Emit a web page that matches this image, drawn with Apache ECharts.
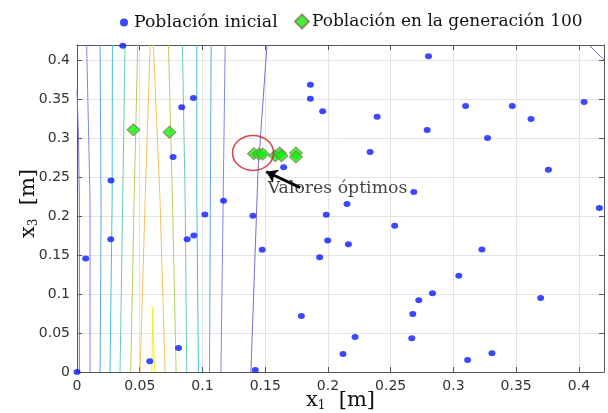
<!DOCTYPE html>
<html>
<head>
<meta charset="utf-8">
<script src="https://cdn.jsdelivr.net/npm/echarts@6/dist/echarts.min.js"></script>
<style>html,body{margin:0;padding:0;background:#fff}#c{width:608px;height:413px}</style>
</head>
<body>
<div id="c"></div>
<script>
// ---- data ----
const xTicks = [0, 0.05, 0.1, 0.15, 0.2, 0.25, 0.3, 0.35, 0.4];
const yTicks = [0, 0.05, 0.1, 0.15, 0.2, 0.25, 0.3, 0.35, 0.4];

// contour lines [x1, x3]
const contourA = [[0.0019,0],[0.0019,0.22],[0.0012,0.30],[0,0.362]];
const contourB = [[0.0104,0],[0.0104,0.22],[0.0077,0.42]];
const contourC = [[0.0184,0],[0.0192,0.21],[0.0184,0.42]];
const contourD = [[0.0263,0],[0.0280,0.22],[0.0282,0.42]];
const contourE = [[0.0343,0],[0.0364,0.22],[0.0383,0.42]];
const contourF = [[0.0428,0],[0.0455,0.22],[0.0484,0.42]];
const contourG = [[0.0503,0],[0.0543,0.22],[0.0583,0.42]];
const contourH = [[0.0702,0],[0.0662,0.22],[0.0609,0.42]];
const contourI = [[0.0596,0],[0.0604,0.083],[0.0617,0]];
const contourJ = [[0.0790,0],[0.0761,0.22],[0.0729,0.42]];
const contourK = [[0.0875,0],[0.0862,0.22],[0.0840,0.42]];
const contourL = [[0.0968,0],[0.0955,0.22],[0.0955,0.42]];
const contourM = [[0.1056,0],[0.1069,0.42]];
const contourN = [[0.1147,0],[0.1181,0.42]];
const contourO = [[0.1386,0],[0.1442,0.2556],[0.1514,0.42]];
const contourP = [[0.408,0.42],[0.42,0.401]];

const poblacionInicial = [
  [0.0365,0.419],[0.0835,0.340],[0.0928,0.352],[0.0766,0.276],[0.0271,0.246],
  [0.1168,0.220],[0.1647,0.263],[0.186,0.369],[0.186,0.351],[0.1958,0.335],
  [0.2801,0.4055],[0.2392,0.328],[0.2336,0.2826],[0.2791,0.3108],[0.3097,0.3417],
  [0.3272,0.3006],[0.3469,0.3417],[0.3618,0.325],[0.4041,0.3469],[0.3757,0.2598],
  [0.2684,0.2311],[0.2152,0.2157],[0.4163,0.2105],[0.0069,0.1458],[0.0269,0.1706],
  [0.058,0.0137],[0.0809,0.0309],[0.0878,0.1706],[0.0931,0.1754],[0.1019,0.2024],
  [0.1402,0.2006],[0.1476,0.1569],[0.1421,0.0026],[0.1788,0.072],[0,0],
  [0.1987,0.2019],[0.2532,0.1878],[0.1998,0.1689],[0.2163,0.1642],[0.1934,0.1475],
  [0.3227,0.1573],[0.3043,0.1235],[0.2833,0.1012],[0.2724,0.0922],[0.2676,0.0746],
  [0.3695,0.0952],[0.2216,0.045],[0.2668,0.0433],[0.212,0.0232],[0.3113,0.0154],
  [0.3307,0.024]
];
const poblacionGen100 = [
  [0.0450,0.311],[0.0737,0.308],[0.1410,0.2804],[0.1450,0.2800],[0.1480,0.2800],
  [0.1580,0.2776],[0.1615,0.2813],[0.1630,0.2776],[0.1745,0.2813],[0.1745,0.2761]
];
const optimoCentro = [[0.1403,0.2813]];
const flecha = [[0.178,0.2367],[0.1508,0.2572]];
const textoPunto = [[0.1516,0.2354]];
const labelSerie1 = 'Población inicial';
const labelSerie2 = 'Población en la generación 100';
const labelAnot = 'Valores óptimos';

// ---- styles ----
const contourSet = [
  [contourA,'#7a6dd4'],[contourB,'#7e86ee'],[contourC,'#5ea6f2'],[contourD,'#3ec3e0'],
  [contourE,'#64d1ae'],[contourF,'#b3cf5c'],[contourG,'#f9bf5a'],[contourH,'#f9bf5a'],
  [contourI,'#f2ee2a'],[contourJ,'#b3cf5c'],[contourK,'#64d1ae'],[contourL,'#3ec3e0'],
  [contourM,'#5ea6f2'],[contourN,'#7e86ee'],[contourO,'#7a6dd4'],[contourP,'#6a6ad8']
];

const chart = echarts.init(document.getElementById('c'), null, {renderer:'canvas'});
const tickFont = {fontFamily:'DejaVu Sans', fontSize:14, color:'#333'};
const serif = 'DejaVu Serif';

const series = contourSet.map(([d,c]) => ({
  type:'line', data:d, symbol:'none', showSymbol:false, silent:true, z:1,
  lineStyle:{color:c, width:1}, animation:false
}));
series.push({
  name: labelSerie1, type:'scatter', data: poblacionInicial, symbol:'circle', symbolSize:[7,6],
  itemStyle:{color:'#0a1aff'}, z:3, animation:false
});
series.push({
  name: labelSerie2, type:'scatter', data: poblacionGen100, symbol:'diamond', symbolSize:[13,12],
  itemStyle:{color:'#0cf00c', borderColor:'#8f7658', borderWidth:1}, z:4, animation:false
});
series.push({
  type:'scatter', data: optimoCentro, symbol:'circle', symbolSize:[41,35], silent:true,
  itemStyle:{color:'rgba(0,0,0,0)', borderColor:'#c81e1e', borderWidth:1.5}, z:5, animation:false
});
series.push({
  type:'lines', coordinateSystem:'cartesian2d', data:[{coords: flecha}],
  symbol:['none','arrow'], symbolSize:11, silent:true,
  lineStyle:{color:'#000', width:3, opacity:1, curveness:0}, z:6, animation:false
});
series.push({
  type:'scatter', data: textoPunto, symbolSize:1, silent:true, itemStyle:{color:'rgba(0,0,0,0)'},
  label:{show:true, position:'right', distance:0, formatter:labelAnot,
    fontFamily:serif, fontSize:17.3, color:'#111'}, z:6, animation:false
});

const axisCommon = {
  type:'value', min:0, max:0.42, interval:0.05,
  axisLine:{show:true, onZero:false, lineStyle:{color:'#555', width:1}},
  axisTick:{show:true, inside:true, length:5, lineStyle:{color:'#555'}},
};

chart.setOption({
  animation:false,
  backgroundColor:'#fff',
  grid:{left:77, right:4, top:45, bottom:41, containLabel:false, outerBoundsMode:'none'},
  legend:[
    {data:[{name:labelSerie1, icon:'circle'}], left:115, top:9, itemWidth:8, itemHeight:8, itemGap:0,
     textStyle:{fontFamily:serif, fontSize:17.3, color:'#111', padding:[0,0,0,1]}},
    {data:[{name:labelSerie2, icon:'diamond'}], left:289, top:8, itemWidth:14, itemHeight:14, itemGap:0,
     textStyle:{fontFamily:serif, fontSize:17, color:'#111', padding:[0,0,0,-2]}}
  ],
  xAxis:[
    Object.assign({}, axisCommon, {
      position:'bottom',
      name:'x{s|1}  [m]', nameLocation:'middle', nameGap:18, nameMoveOverlap:false,
      nameTextStyle:{fontFamily:serif, fontSize:21, color:'#111',
        rich:{s:{fontFamily:serif, fontSize:12, verticalAlign:'bottom', padding:[10,0,0,0]}}},
      axisLabel:Object.assign({margin:7, showMaxLabel:false, formatter:v=>String(+v.toFixed(2))}, tickFont),
      splitLine:{show:true, lineStyle:{color:'#e4e4e4', width:1}}
    }),
    Object.assign({}, axisCommon, {position:'top', axisLabel:{show:false}, splitLine:{show:false}})
  ],
  yAxis:[
    Object.assign({}, axisCommon, {
      position:'left',
      name:'x{s|3}  [m]', nameLocation:'middle', nameGap:37, nameRotate:90, nameMoveOverlap:false,
      nameTextStyle:{fontFamily:serif, fontSize:21, color:'#111', padding:[0,0,0,10],
        rich:{s:{fontFamily:serif, fontSize:12, verticalAlign:'bottom', padding:[10,0,0,0]}}},
      axisLabel:Object.assign({margin:7, showMaxLabel:false, formatter:v=>String(+v.toFixed(2))}, tickFont),
      splitLine:{show:true, lineStyle:{color:'#e4e4e4', width:1}}
    }),
    Object.assign({}, axisCommon, {position:'right', axisLabel:{show:false}, splitLine:{show:false}})
  ],
  series: series
});
</script>
</body>
</html>
